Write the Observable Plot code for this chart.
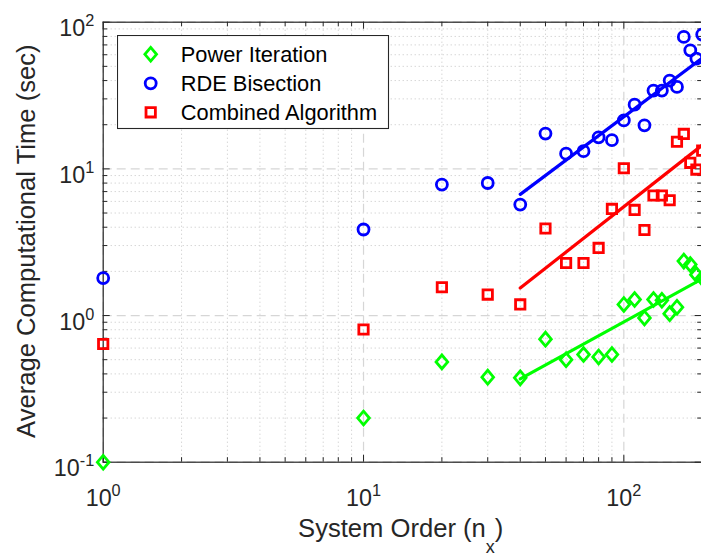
<!DOCTYPE html>
<html><head><meta charset="utf-8">
<script src="https://cdn.jsdelivr.net/npm/d3@7"></script>
<script src="https://cdn.jsdelivr.net/npm/@observablehq/plot@0.6"></script>
<style>
html,body{margin:0;padding:0;background:#fff;overflow:hidden;}
#chart{position:relative;width:701px;height:556px;overflow:hidden;}
#chart svg{display:block;}
</style></head><body><div id="chart"></div>
<script>
// ---- data ----
const systemOrder = [1,10,20,30,40,50,60,70,80,90,100,110,120,130,140,150,160,170,180,190,200];
const powerIteration = [0.10,0.20,0.483,0.38,0.376,0.69,0.50,0.542,0.522,0.542,1.19,1.285,0.963,1.285,1.27,1.03,1.14,2.35,2.23,1.90,1.80];
const rdeBisection = [1.80,3.86,7.82,8.01,5.71,17.4,12.7,13.2,16.4,15.7,21.4,27.4,19.8,34.2,34.2,40.0,36.2,79.3,64.3,56.5,82.3];
const combinedAlgorithm = [0.64,0.803,1.56,1.39,1.19,3.92,2.28,2.28,2.89,5.33,10.1,5.25,3.83,6.58,6.58,6.11,15.3,17.3,11.0,9.89,13.3];
const fitOrder = [40, 200];
const powerFit = [0.37, 1.78];
const rdeFit = [6.7, 57];
const combinedFit = [1.54, 14.5];
const seriesNames = ["Power Iteration", "RDE Bisection", "Combined Algorithm"];
const seriesColors = ["#00ff00", "#0000ff", "#ff0000"];
const xTickValues = [1, 10, 100];
const xTickLabels = ["10^0", "10^1", "10^2"];
const yTickValues = [0.1, 1, 10, 100];
const yTickLabels = ["10^-1", "10^0", "10^1", "10^2"];
const minorMultipliers = [2,3,4,5,6,7,8,9];
const xLabel = "System Order (n_x)";
const yLabel = "Average Computational Time (sec)";

const xMinor = xTickValues.flatMap(d => minorMultipliers.map(m => d*m)).filter(v => v <= 200);
const yMinor = yTickValues.slice(0, 3).flatMap(d => minorMultipliers.map(m => d*m));

// ---- symbols ----
const diamondSym = {draw(ctx, size){ const r = Math.sqrt(size/Math.PI); const h = r*1.3, w = r*1.1;
  ctx.moveTo(0,-h); ctx.lineTo(w,0); ctx.lineTo(0,h); ctx.lineTo(-w,0); ctx.closePath(); }};
const squareSym = {draw(ctx, size){ const r = Math.sqrt(size/Math.PI); const s = r*0.9;
  ctx.moveTo(-s,-s); ctx.lineTo(s,-s); ctx.lineTo(s,s); ctx.lineTo(-s,s); ctx.closePath(); }};
const circleSym = {draw(ctx, size){ const r = Math.sqrt(size/Math.PI); ctx.moveTo(r,0); ctx.arc(0,0,r,0,2*Math.PI); }};
const symbols = [diamondSym, circleSym, squareSym];
const symR = [5.3, 5.5, 5.2];
const symStroke = 2.8;

const rows = systemOrder.map((x,i) => ({x, p: powerIteration[i], r: rdeBisection[i], c: combinedAlgorithm[i]}));
const fits = fitOrder.map((x,i) => ({x, p: powerFit[i], r: rdeFit[i], c: combinedFit[i]}));

// ---- layout ----
const W = 701, H = 556, mL = 102.7, mR = -0.7, mT = 21.7, mB = 94.3;
const fW = W - mL - mR, fH = H - mT - mB;
const ink = "#262626";
const font = "'Liberation Sans', Arial, Helvetica, sans-serif";

const plot = Plot.plot({
  width: W, height: H,
  marginLeft: mL, marginRight: mR, marginTop: mT, marginBottom: mB,
  x: {type: "log", domain: [1, 200], axis: null},
  y: {type: "log", domain: [0.1, 100], axis: null},
  style: {fontFamily: font, color: ink, background: "white", overflow: "hidden"},
  marks: [
    Plot.ruleX(xMinor, {x: d => d, stroke: "#c4c4c4", strokeDasharray: "1,3", strokeWidth: 1}),
    Plot.ruleY(yMinor, {y: d => d, stroke: "#c4c4c4", strokeDasharray: "1,3", strokeWidth: 1}),
    Plot.ruleX(xTickValues, {x: d => d, stroke: "#d6d6d6", strokeDasharray: "9,5", strokeWidth: 1.2}),
    Plot.ruleY(yTickValues, {y: d => d, stroke: "#d6d6d6", strokeDasharray: "9,5", strokeWidth: 1.2}),
    Plot.frame({stroke: ink, strokeWidth: 1.2}),
    // ticks (inward), on all four sides
    Plot.tickX(xTickValues, {x: d => d, insetTop: fH - 7, stroke: ink}),
    Plot.tickX(xTickValues, {x: d => d, insetBottom: fH - 7, stroke: ink}),
    Plot.tickX(xMinor, {x: d => d, insetTop: fH - 4.5, stroke: ink}),
    Plot.tickX(xMinor, {x: d => d, insetBottom: fH - 4.5, stroke: ink}),
    Plot.tickY(yTickValues, {y: d => d, insetRight: fW - 7, stroke: ink}),
    Plot.tickY(yTickValues, {y: d => d, insetLeft: fW - 7, stroke: ink}),
    Plot.tickY(yMinor, {y: d => d, insetRight: fW - 4.5, stroke: ink}),
    Plot.tickY(yMinor, {y: d => d, insetLeft: fW - 4.5, stroke: ink}),
    // data
    Plot.dot(rows, {x: "x", y: "p", symbol: diamondSym, r: symR[0], stroke: seriesColors[0], strokeWidth: symStroke, fill: "none"}),
    Plot.dot(rows, {x: "x", y: "r", symbol: circleSym, r: symR[1], stroke: seriesColors[1], strokeWidth: symStroke, fill: "none"}),
    Plot.dot(rows, {x: "x", y: "c", symbol: squareSym, r: symR[2], stroke: seriesColors[2], strokeWidth: symStroke, fill: "none"}),
    Plot.line(fits, {x: "x", y: "p", stroke: seriesColors[0], strokeWidth: 3.2}),
    Plot.line(fits, {x: "x", y: "r", stroke: seriesColors[1], strokeWidth: 3.2}),
    Plot.line(fits, {x: "x", y: "c", stroke: seriesColors[2], strokeWidth: 3.2}),
    // tick labels
    Plot.text(xTickValues, {x: d => d, text: (d, i) => xTickLabels[i], frameAnchor: "bottom",
      textAnchor: "middle", lineAnchor: "bottom", dy: 43.3, fontSize: 23.3, fill: ink}),
    Plot.text(yTickValues, {y: d => d, text: (d, i) => yTickLabels[i], frameAnchor: "left",
      textAnchor: "end", lineAnchor: "bottom", dx: -9, dy: 14, fontSize: 23.3, fill: ink}),
    // axis labels
    Plot.text([xLabel], {text: d => d, frameAnchor: "bottom", textAnchor: "middle", lineAnchor: "bottom",
      dx: -2, dy: 75, fontSize: 25.6, fill: ink}),
    Plot.text([yLabel], {text: d => d, frameAnchor: "left", rotate: -90, textAnchor: "middle", lineAnchor: "bottom",
      dx: -68.4, dy: -1, fontSize: 25.6, fill: ink})
  ]
});

// superscripts / subscripts as tspans
d3.select(plot).selectAll("text").each(function() {
  const s = this.textContent;
  const el = d3.select(this);
  let i = s.indexOf("^");
  if (i >= 0) {
    el.text(null);
    el.append("tspan").text(s.slice(0, i));
    el.append("tspan").attr("dy", -10).attr("font-size", 16.3).text(s.slice(i + 1));
    return;
  }
  i = s.indexOf("_");
  if (i >= 0) {
    el.text(null);
    el.append("tspan").text(s.slice(0, i));
    el.append("tspan").attr("dy", 16).attr("font-size", 18).text(s.charAt(i + 1));
    el.append("tspan").attr("dy", -16).text(s.slice(i + 2));
  }
});

document.getElementById("chart").appendChild(plot);

// legend (inside the axes, top-left)
const leg = d3.select("#chart").append("svg")
  .style("position", "absolute").style("left", "117px").style("top", "35px")
  .attr("width", 273).attr("height", 95)
  .style("font-family", font);
leg.append("rect").attr("x", 0.5).attr("y", 0.5).attr("width", 271).attr("height", 93)
  .attr("fill", "white").attr("stroke", ink).attr("stroke-width", 1.1);
seriesNames.forEach((name, i) => {
  const cy = 19.3 + i * 29;
  leg.append("path")
    .attr("d", d3.symbol(symbols[i], Math.PI * symR[i] * symR[i])())
    .attr("transform", `translate(33.7,${cy})`)
    .attr("fill", "none").attr("stroke", seriesColors[i]).attr("stroke-width", symStroke);
  leg.append("text").attr("x", 63.8).attr("y", cy + 8)
    .attr("font-size", 21.8).attr("fill", "#000").text(name);
});
</script>
</body></html>
